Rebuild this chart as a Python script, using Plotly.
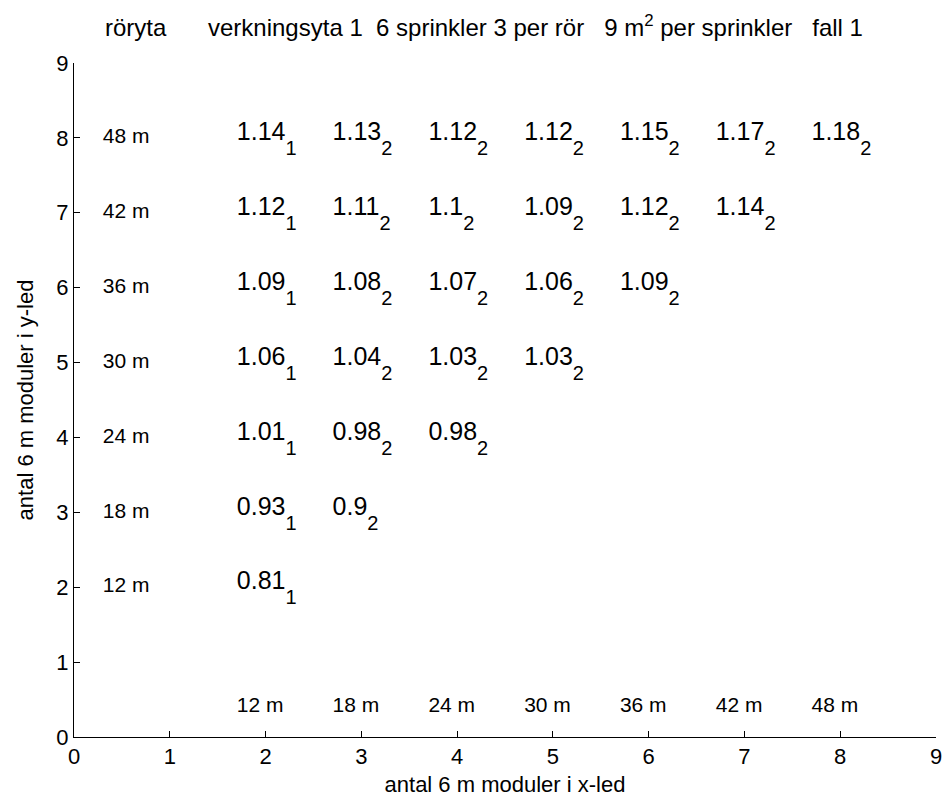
import plotly.graph_objects as go

# Values per row (y = number of 6 m modules in y), columns start at x = 2
rows_y = [8, 7, 6, 5, 4, 3, 2]
row_values = [
    [1.14, 1.13, 1.12, 1.12, 1.15, 1.17, 1.18],
    [1.12, 1.11, 1.1, 1.09, 1.12, 1.14],
    [1.09, 1.08, 1.07, 1.06, 1.09],
    [1.06, 1.04, 1.03, 1.03],
    [1.01, 0.98, 0.98],
    [0.93, 0.9],
    [0.81],
]
row_subs = [
    [1, 2, 2, 2, 2, 2, 2],
    [1, 2, 2, 2, 2, 2],
    [1, 2, 2, 2, 2],
    [1, 2, 2, 2],
    [1, 2, 2],
    [1, 2],
    [1],
]
row_labels = ["48 m", "42 m", "36 m", "30 m", "24 m", "18 m", "12 m"]
col_x = [2, 3, 4, 5, 6, 7, 8]
col_labels = ["12 m", "18 m", "24 m", "30 m", "36 m", "42 m", "48 m"]
ticks = list(range(10))

FONT = "Liberation Sans, Arial, sans-serif"
offset = 0.3
VAL_SIZE = 25
SUB_SIZE = 20
LBL_SIZE = 21
AX_SIZE = 22
TITLE_SIZE = 24


def value_text(v, s):
    # number nudged up a little, index digit dropped well below it
    return (f'<span style="baseline-shift:4px">{v:g}</span>'
            f'<span style="font-size:{SUB_SIZE}px;baseline-shift:-11px">{s}</span>')


xs, ys, texts = [], [], []
for y, vals, subs in zip(rows_y, row_values, row_subs):
    for i, (v, s) in enumerate(zip(vals, subs)):
        xs.append(col_x[i] - offset)
        ys.append(y)
        texts.append(value_text(v, s))

fig = go.Figure()

fig.add_trace(go.Scatter(
    x=xs, y=ys, text=texts, mode="text", textposition="middle right",
    textfont=dict(family=FONT, size=VAL_SIZE, color="black"),
    showlegend=False, hoverinfo="skip",
))

# row lengths (pipe length in y)
fig.add_trace(go.Scatter(
    x=[offset] * len(rows_y), y=rows_y, text=row_labels, mode="text",
    textposition="middle right",
    textfont=dict(family=FONT, size=LBL_SIZE, color="black"),
    showlegend=False, hoverinfo="skip",
))

# column lengths along the bottom
fig.add_trace(go.Scatter(
    x=[c - offset for c in col_x], y=[0.4] * len(col_x), text=col_labels,
    mode="text", textposition="middle right",
    textfont=dict(family=FONT, size=LBL_SIZE, color="black"),
    showlegend=False, hoverinfo="skip",
))

nb = "\u00a0"
fig.add_annotation(
    text="röryta", xref="x", yref="paper", x=offset, y=1.0, yshift=20,
    xanchor="left", yanchor="bottom", showarrow=False,
    font=dict(family=FONT, size=TITLE_SIZE, color="black"),
)
title = (f"verkningsyta 1{nb*2}6 sprinkler 3 per rör{nb*3}"
         f"9 m<sup>2</sup> per sprinkler{nb*3}fall 1")
fig.add_annotation(
    text=title, xref="x", yref="paper", x=1.38, y=1.0, yshift=20,
    xanchor="left", yanchor="bottom", showarrow=False,
    font=dict(family=FONT, size=TITLE_SIZE, color="black"),
)

axis_common = dict(
    range=[0, 9], tickmode="array", tickvals=ticks,
    ticks="inside", ticklen=6, tickwidth=1, tickcolor="black",
    showline=True, linecolor="black", linewidth=1, mirror=False,
    showgrid=False, zeroline=False,
    tickfont=dict(family=FONT, size=AX_SIZE, color="black"),
)

fig.update_layout(
    width=952, height=803,
    margin=dict(l=74, r=10, t=63, b=65),
    paper_bgcolor="white", plot_bgcolor="white",
    xaxis=dict(**axis_common,
               title=dict(text="antal 6 m moduler i x-led", standoff=8,
                          font=dict(family=FONT, size=AX_SIZE, color="black"))),
    yaxis=dict(**axis_common,
               title=dict(text="antal 6 m moduler i y-led", standoff=16,
                          font=dict(family=FONT, size=AX_SIZE, color="black"))),
)

fig.write_html("out.html")
